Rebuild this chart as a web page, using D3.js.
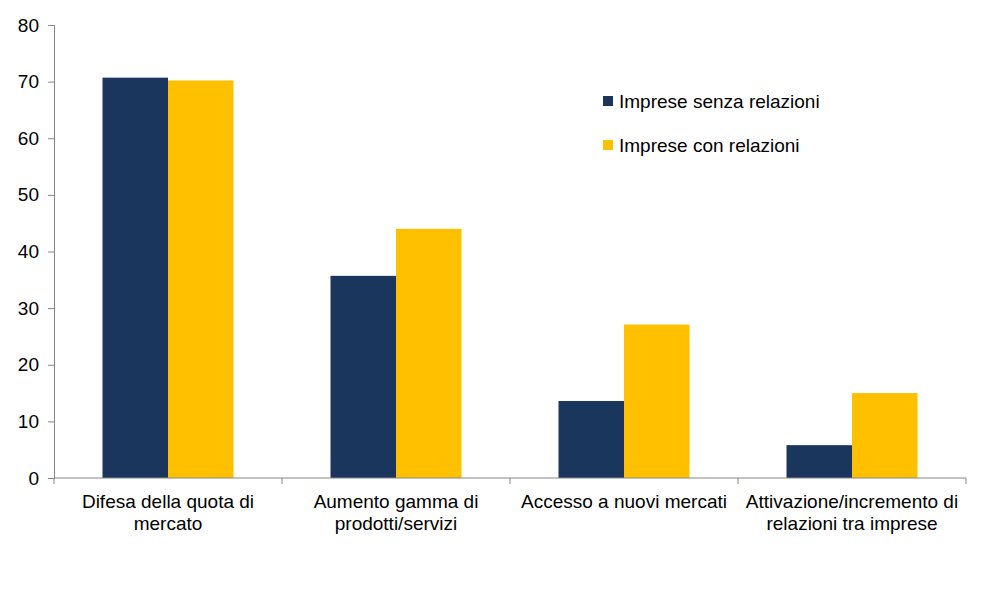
<!DOCTYPE html>
<html><head><meta charset="utf-8">
<script src="https://cdn.jsdelivr.net/npm/d3@7"></script>
<style>body{margin:0;background:#fff;} text{font-family:"Liberation Sans",Arial,sans-serif;}</style>
</head><body><svg id="c" width="997" height="603"></svg>
<script>
const categories = [["Difesa della quota di","mercato"],["Aumento gamma di","prodotti/servizi"],["Accesso a nuovi mercati"],["Attivazione/incremento di","relazioni tra imprese"]];
const seriesNames = ["Imprese senza relazioni","Imprese con relazioni"];
const senza = [70.7, 35.7, 13.6, 5.8];
const con = [70.2, 44.0, 27.1, 15.0];
const yTicks = [0,10,20,30,40,50,60,70,80];
const colors = ["#1b365d","#ffc000"];

const svg = d3.select("#c");
const L=54, R=966, T=25, B=478;
const FS = 19;
const x = d3.scaleBand().domain(d3.range(categories.length)).range([L,R]).paddingInner(0).paddingOuter(0);
const y = d3.scaleLinear().domain([0,80]).range([B,T]);
const groupW = 131;
const x1 = d3.scaleBand().domain([0,1]).range([0,groupW]).padding(0);
const axisColor="#868686";

// y axis
const ya = svg.append("g").attr("transform",`translate(${L},0)`).call(d3.axisLeft(y).tickValues(yTicks).tickSize(6).tickPadding(9));
ya.select(".domain").attr("stroke",axisColor);
ya.selectAll(".tick line").attr("stroke",axisColor);
ya.selectAll(".tick text").attr("font-size",FS).attr("fill","#000").attr("font-family","Liberation Sans, Arial, sans-serif");

// bars
const data = [senza, con];
categories.forEach((c,i)=>{
  data.forEach((s,j)=>{
    svg.append("rect")
      .attr("x", x(i) + (x.bandwidth()-groupW)/2 + x1(j))
      .attr("y", y(s[i]))
      .attr("width", x1.bandwidth())
      .attr("height", B - y(s[i]))
      .attr("fill", colors[j]);
  });
});

// x axis
svg.append("line").attr("x1",L).attr("x2",R).attr("y1",B).attr("y2",B).attr("stroke",axisColor);
d3.range(categories.length+1).forEach(i=>{
  const xx = L + i*x.bandwidth();
  svg.append("line").attr("x1",xx).attr("x2",xx).attr("y1",B).attr("y2",B+6).attr("stroke",axisColor);
});
categories.forEach((lines,i)=>{
  const t = svg.append("text").attr("text-anchor","middle").attr("font-size",FS).attr("fill","#000")
    .attr("x", x(i)+x.bandwidth()/2).attr("y", 508);
  lines.forEach((ln,k)=>t.append("tspan").attr("x", x(i)+x.bandwidth()/2).attr("dy", k===0?0:22).text(ln));
});

// legend
seriesNames.forEach((n,j)=>{
  const yy = 101 + j*44;
  svg.append("rect").attr("x",603).attr("y",yy-5).attr("width",10).attr("height",10).attr("fill",colors[j]);
  svg.append("text").attr("x",619).attr("y",yy+7).attr("font-size",FS).attr("fill","#000").text(n);
});
</script></body></html>
